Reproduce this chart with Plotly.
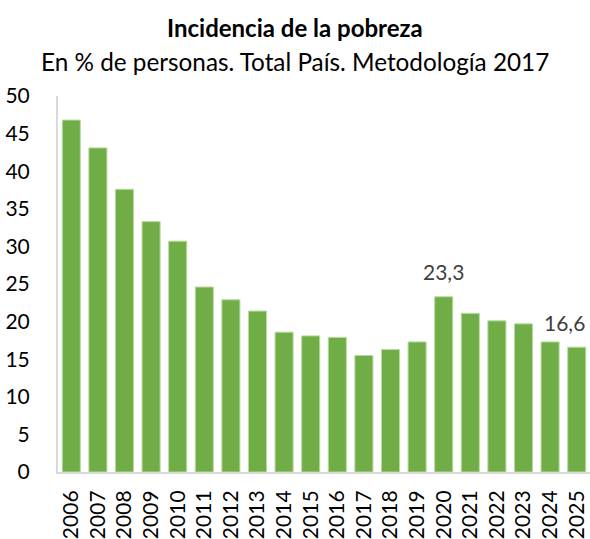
import plotly.graph_objects as go

years = [str(y) for y in range(2006, 2026)]
values = [46.8, 43.1, 37.6, 33.3, 30.7, 24.6, 22.9, 21.4, 18.6, 18.1,
          17.9, 15.5, 16.3, 17.3, 23.3, 21.1, 20.1, 19.7, 17.3, 16.6]
labeled_years = ["2020", "2025"]
y_ticks = [0, 5, 10, 15, 20, 25, 30, 35, 40, 45, 50]

title_text = "Incidencia de la pobreza"
subtitle_text = "En % de personas. Total País. Metodología 2017"

FONT = "Lato"

fig = go.Figure()
fig.add_trace(go.Bar(
    x=years, y=values,
    marker=dict(color="#70AD47", line=dict(color="#B9DBA0", width=1)),
    hoverinfo="x+y",
))

annotations = []
for yr in labeled_years:
    idx = years.index(yr)
    v = values[idx]
    shift = -12 if yr == years[-1] else 0
    annotations.append(dict(
        x=idx, y=v, xref="x", yref="y", text=f"{v:.1f}".replace(".", ","),
        showarrow=False, yshift=25, xshift=shift,
        font=dict(family=FONT, size=21, color="#404040"),
        xanchor="center", yanchor="middle",
    ))

annotations.append(dict(
    x=0.4455, y=1.183, xref="paper", yref="paper", text=f"<b>{title_text}</b>",
    showarrow=False, font=dict(family=FONT, size=24, color="#000000"),
    xanchor="center", yanchor="middle",
))
annotations.append(dict(
    x=0.4455, y=1.092, xref="paper", yref="paper", text=subtitle_text,
    showarrow=False, font=dict(family=FONT, size=24.3, color="#000000"),
    xanchor="center", yanchor="middle",
))

fig.update_layout(
    width=590, height=539,
    margin=dict(l=58, r=0, t=96, b=67, autoexpand=False),
    paper_bgcolor="white", plot_bgcolor="white",
    bargap=0.32,
    showlegend=False,
    annotations=annotations,
    font=dict(family=FONT, color="#000000"),
)
fig.update_yaxes(
    range=[0, 50], tickvals=y_ticks, showgrid=False, zeroline=False,
    showline=True, linecolor="#D9D9D9", linewidth=2, automargin=False,
    ticks="", tickfont=dict(family=FONT, size=21, color="#000000"),
    ticklabelstandoff=22,
)
fig.update_xaxes(
    type="category", automargin=False,
    showgrid=False, showline=True, linecolor="#D9D9D9", linewidth=2,
    ticks="", tickangle=-90, tickfont=dict(family=FONT, size=21, color="#000000"),
    ticklabelstandoff=8,
)

fig.write_html("out.html", config={"displayModeBar": False},
               post_script="document.body.style.margin='0';")
